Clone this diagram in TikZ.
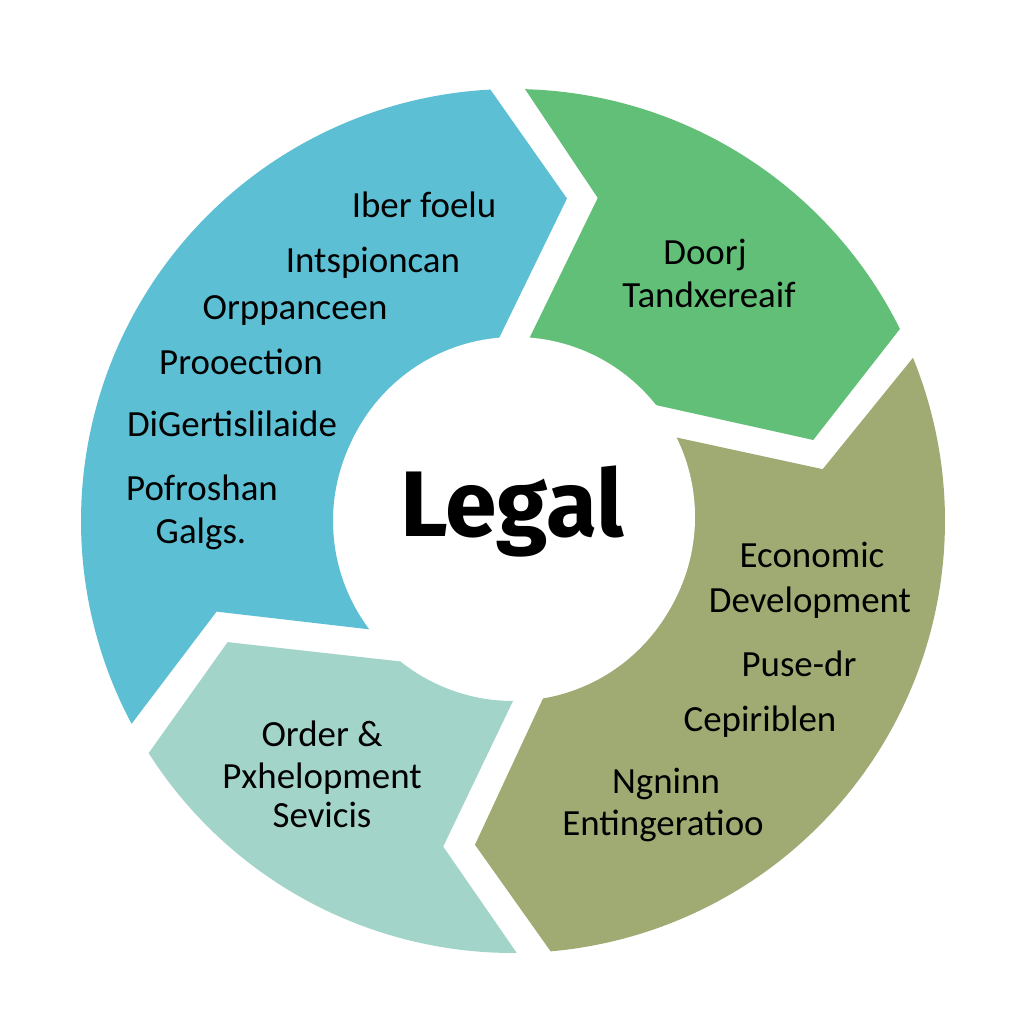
\documentclass[tikz,border=0pt]{standalone}
\usepackage{fontspec}
\setmainfont{Carlito}
\newfontfamily\legalfont{Fira Sans}
\usepackage{tikz}
\definecolor{blueseg}{HTML}{5CBFD3}
\definecolor{greenseg}{HTML}{62BF78}
\definecolor{oliveseg}{HTML}{9FAB72}
\definecolor{tealseg}{HTML}{A3D4C9}
\newcommand{\ringsegment}[9]{%
  \fill[#1] (#2:4.32) arc[start angle=#2,end angle=#3,radius=4.32]
    -- (#4:#5) -- (#6:1.8) arc[start angle=#6,end angle=#7,radius=1.8]
    -- (#8:#9) -- cycle;%
}

\begin{document}
\begin{tikzpicture}[ringlabel/.style={anchor=base,inner sep=0pt,font=\fontsize{10.5}{12}\selectfont}]
  \useasboundingbox (0,0) rectangle (10.24,10.24);
  \fill[white] (0,0) rectangle (10.24,10.24);
  \begin{scope}[shift={(5.13,5.03)}]
    \ringsegment{blueseg}{208}{93}{80.5}{3.27}{95}{217}{197}{3.10}
    \ringsegment{greenseg}{88.4}{26.4}{15.1}{3.11}{40.7}{85.3}{75.3}{3.34}
    \ringsegment{oliveseg}{22.2}{-85}{-96.7}{3.26}{-80.4}{28}{9.5}{3.14}
    \ringsegment{tealseg}{-89.5}{-147.5}{-157}{3.10}{-128.7}{-90}{-102.1}{3.33}
  \end{scope}
  \fill[white] (5.15,5.07) circle[radius=1.8];
  \foreach \lname/\lx/\ly/\ltext in {b1/4.24/8.06/Iber foelu, b2/3.73/7.51/Intspioncan,
      b3/2.95/7.04/Orppanceen, b4/2.41/6.49/Prooection, b5/2.32/5.87/DiGertislilaide,
      b6/2.02/5.23/Pofroshan, b7/2.01/4.80/Galgs.,
      g1/7.05/7.59/Doorj, g2/7.09/7.16/Tandxereaif,
      o1/8.12/4.56/Economic, o2/8.10/4.11/Development, o3/7.99/3.47/Puse-dr,
      o4/7.60/2.92/Cepiriblen, o5/6.66/2.30/Ngninn, o6/6.63/1.88/Entingeratioo,
      t1/3.22/2.77/Order \&, t2/3.22/2.35/Pxhelopment, t3/3.22/1.96/Sevicis}
    \node[ringlabel] (\lname) at (\lx,\ly) {\ltext};
  \node[anchor=base,inner sep=0pt,font=\legalfont\bfseries\fontsize{26.5}{30}\selectfont] (legal) at (5.12,4.87) {Legal};
\end{tikzpicture}
\end{document}
